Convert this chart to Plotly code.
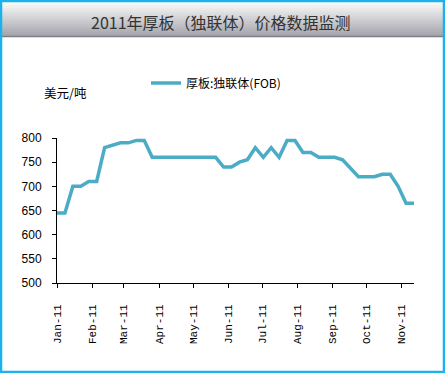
import plotly.graph_objects as go

# ---- data ----
dates = [
    "2011-01-01", "2011-01-08", "2011-01-15", "2011-01-22", "2011-01-29",
    "2011-02-05", "2011-02-12", "2011-02-19", "2011-02-26", "2011-03-05",
    "2011-03-12", "2011-03-19", "2011-03-26", "2011-04-02", "2011-04-09",
    "2011-04-16", "2011-04-23", "2011-04-30", "2011-05-07", "2011-05-14",
    "2011-05-21", "2011-05-28", "2011-06-04", "2011-06-11", "2011-06-18",
    "2011-06-25", "2011-07-02", "2011-07-09", "2011-07-16", "2011-07-23",
    "2011-07-30", "2011-08-06", "2011-08-13", "2011-08-20", "2011-08-27",
    "2011-09-03", "2011-09-10", "2011-09-17", "2011-09-24", "2011-10-01",
    "2011-10-08", "2011-10-15", "2011-10-22", "2011-10-29", "2011-11-05",
    "2011-11-12",
]
prices = [
    645, 645, 700, 700, 710,
    710, 780, 785, 790, 790,
    795, 795, 760, 760, 760,
    760, 760, 760, 760, 760,
    760, 740, 740, 750, 755,
    780, 760, 780, 760, 795,
    795, 770, 770, 760, 760,
    760, 755, 738, 720, 720,
    720, 725, 725, 700, 665,
    665,
]
series_name = "厚板:独联体(FOB)"
month_ticks = ["2011-01-01", "2011-02-01", "2011-03-01", "2011-04-01", "2011-05-01",
               "2011-06-01", "2011-07-01", "2011-08-01", "2011-09-01", "2011-10-01",
               "2011-11-01"]
title_text = "2011年厚板（独联体）价格数据监测"
unit_text = "美元/吨"

# ---- layout geometry (pixels) ----
W, H = 445, 373
L, R, T, B = 57, 31, 138, 90
PW, PH = W - L - R, H - T - B


def px_x(px):
    return (px - L) / PW


def px_y(py):
    return (H - B - py) / PH


fig = go.Figure()
fig.add_trace(go.Scatter(
    x=dates, y=prices, mode="lines", name=series_name,
    line=dict(color="#4BACC6", width=3.5),
    showlegend=True,
))

shapes = []
# title bar gradient
top_c = (250, 250, 250)
bot_c = (166, 166, 174)
y_top, y_bot = 2, 36
n = 17
step = (y_bot - y_top) / n
for i in range(n):
    t = i / (n - 1)
    c = tuple(int(top_c[k] + (bot_c[k] - top_c[k]) * t) for k in range(3))
    shapes.append(dict(
        type="rect", xref="paper", yref="paper", layer="below",
        x0=px_x(2), x1=px_x(443),
        y0=px_y(y_top + step * (i + 1) + 0.5), y1=px_y(y_top + step * i),
        fillcolor="rgb(%d,%d,%d)" % c, line=dict(width=0),
    ))
shapes.append(dict(
    type="line", xref="paper", yref="paper",
    x0=px_x(2), x1=px_x(443), y0=px_y(36.5), y1=px_y(36.5),
    line=dict(color="#7d7d85", width=1.5),
))
# outer cyan border
shapes.append(dict(
    type="rect", xref="paper", yref="paper",
    x0=px_x(1), x1=px_x(444), y0=px_y(372), y1=px_y(1),
    line=dict(color="#19B2EA", width=2.5), fillcolor="rgba(0,0,0,0)",
))

annotations = [
    dict(text=title_text, xref="paper", yref="paper",
         x=px_x(221), y=px_y(22), xanchor="center", yanchor="middle",
         showarrow=False,
         font=dict(family="Noto Sans CJK SC", size=16, color="#333333")),
    dict(text=unit_text, xref="paper", yref="paper",
         x=px_x(42), y=px_y(92), xanchor="left", yanchor="middle",
         showarrow=False,
         font=dict(family="Noto Sans CJK SC", size=12.5, color="#000000")),
]

fig.update_layout(
    width=W, height=H,
    margin=dict(l=L, r=R, t=T, b=B, pad=0),
    paper_bgcolor="white", plot_bgcolor="white",
    shapes=shapes, annotations=annotations,
    showlegend=True,
    legend=dict(
        orientation="h", x=px_x(146), y=px_y(83), xanchor="left", yanchor="middle",
        font=dict(family="Noto Sans CJK SC", size=12, color="#000000"),
        bgcolor="rgba(0,0,0,0)", borderwidth=0, itemwidth=30,
    ),
    xaxis=dict(
        type="date", range=["2011-01-01", "2011-11-12"],
        tickvals=month_ticks, tickformat="%b-%y", tickangle=-90,
        ticks="outside", ticklen=4, tickcolor="#000000",
        showline=True, linecolor="#000000", linewidth=1,
        showgrid=False, zeroline=False,
        tickfont=dict(family="Liberation Mono", size=11, color="#000000"),
        ticklabelstandoff=12,
    ),
    yaxis=dict(
        range=[500, 800], dtick=50, tick0=500,
        ticks="outside", ticklen=4, tickcolor="#000000",
        showline=True, linecolor="#000000", linewidth=1,
        showgrid=False, zeroline=False,
        tickfont=dict(family="Liberation Sans", size=12, color="#000000"),
        ticklabelstandoff=8,
    ),
)

fig.write_html(
    "out.html",
    config={"displayModeBar": False},
    post_script="document.body.style.margin='0';document.body.style.overflow='hidden';",
)
